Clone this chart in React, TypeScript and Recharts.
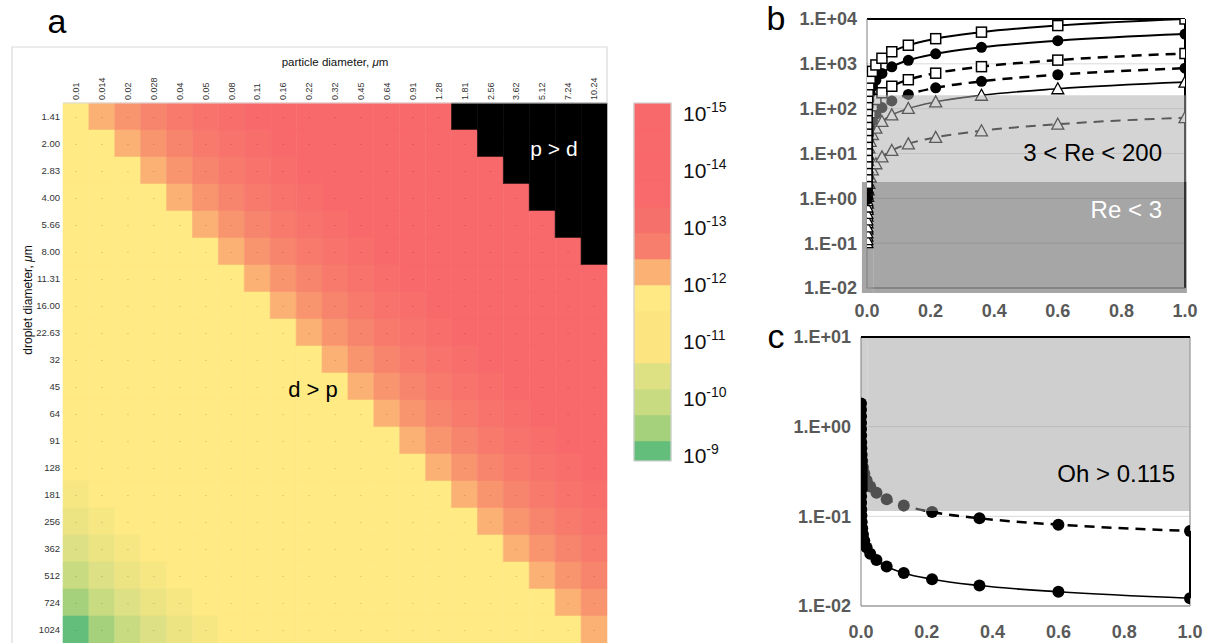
import React from 'react';
import {
  BarChart, Bar, Cell, XAxis, YAxis, LabelList, ComposedChart, Line,
  CartesianGrid, ReferenceArea, ReferenceLine,
} from 'recharts';

const FONT = '"Liberation Sans", Arial, Helvetica, sans-serif';

// ---------- panel a : heat map ----------
const particleLabels = ['0.01', '0.014', '0.02', '0.028', '0.04', '0.05', '0.08', '0.11', '0.16', '0.22', '0.32', '0.45', '0.64', '0.91', '1.28', '1.81', '2.56', '3.62', '5.12', '7.24', '10.24'];
const dropletLabels = ['1.41', '2.00', '2.83', '4.00', '5.66', '8.00', '11.31', '16.00', '22.63', '32', '45', '64', '91', '128', '181', '256', '362', '512', '724', '1024'];

// colour level of each class (0 = 1e-9 green ... 6 = yellow ... 13 = 1e-15 red)
const levelColors = ['#63BE7B', '#A5D17C', '#C8DB81', '#DDE084', '#ECE383', '#F7E783', '#FFEA84', '#FBB174', '#F8956F', '#F7846D', '#F77A6C', '#F7736C', '#F86E6B', '#F8696B'];

// -1 = particle larger than droplet (black)
const cellLevels: number[][] = [
  [6, 7, 8, 9, 10, 11, 12, 13, 13, 13, 13, 13, 13, 13, 13, -1, -1, -1, -1, -1, -1],
  [6, 6, 7, 8, 9, 10, 11, 12, 13, 13, 13, 13, 13, 13, 13, 13, -1, -1, -1, -1, -1],
  [6, 6, 6, 7, 8, 9, 10, 11, 12, 13, 13, 13, 13, 13, 13, 13, 13, -1, -1, -1, -1],
  [6, 6, 6, 6, 7, 8, 9, 10, 11, 12, 13, 13, 13, 13, 13, 13, 13, 13, -1, -1, -1],
  [6, 6, 6, 6, 6, 7, 8, 9, 10, 11, 12, 13, 13, 13, 13, 13, 13, 13, 13, -1, -1],
  [6, 6, 6, 6, 6, 6, 7, 8, 9, 10, 11, 12, 13, 13, 13, 13, 13, 13, 13, 13, -1],
  [6, 6, 6, 6, 6, 6, 6, 7, 8, 9, 10, 11, 12, 13, 13, 13, 13, 13, 13, 13, 13],
  [6, 6, 6, 6, 6, 6, 6, 6, 7, 8, 9, 10, 11, 12, 13, 13, 13, 13, 13, 13, 13],
  [6, 6, 6, 6, 6, 6, 6, 6, 6, 7, 8, 9, 10, 11, 12, 13, 13, 13, 13, 13, 13],
  [6, 6, 6, 6, 6, 6, 6, 6, 6, 6, 7, 8, 9, 10, 11, 12, 13, 13, 13, 13, 13],
  [6, 6, 6, 6, 6, 6, 6, 6, 6, 6, 6, 7, 8, 9, 10, 11, 12, 13, 13, 13, 13],
  [6, 6, 6, 6, 6, 6, 6, 6, 6, 6, 6, 6, 7, 8, 9, 10, 11, 12, 13, 13, 13],
  [6, 6, 6, 6, 6, 6, 6, 6, 6, 6, 6, 6, 6, 7, 8, 9, 10, 11, 12, 13, 13],
  [6, 6, 6, 6, 6, 6, 6, 6, 6, 6, 6, 6, 6, 6, 7, 8, 9, 10, 11, 12, 13],
  [5, 6, 6, 6, 6, 6, 6, 6, 6, 6, 6, 6, 6, 6, 6, 7, 8, 9, 10, 11, 12],
  [4, 5, 6, 6, 6, 6, 6, 6, 6, 6, 6, 6, 6, 6, 6, 6, 7, 8, 9, 10, 11],
  [3, 4, 5, 6, 6, 6, 6, 6, 6, 6, 6, 6, 6, 6, 6, 6, 6, 7, 8, 9, 10],
  [2, 3, 4, 5, 6, 6, 6, 6, 6, 6, 6, 6, 6, 6, 6, 6, 6, 6, 7, 8, 9],
  [1, 2, 3, 4, 5, 6, 6, 6, 6, 6, 6, 6, 6, 6, 6, 6, 6, 6, 6, 7, 8],
  [0, 1, 2, 3, 4, 5, 6, 6, 6, 6, 6, 6, 6, 6, 6, 6, 6, 6, 6, 6, 7],
];
// cells whose "-" marker is hidden under the "d > p" annotation: [row, column]
const hiddenDashCells = [[10, 9], [10, 10]];

// ---------- colour bar (top to bottom) ----------
const colorbarColors = ['#F8696B', '#F8696B', '#F8696B', '#F86A6B', '#F6706B', '#F77D6D', '#FBB174', '#FFE984', '#FCE581', '#FCE581', '#DEE084', '#C9DB81', '#A6D17C', '#63BE7B'];
// height of every colour-bar cell, in decades of the label scale
const colorbarSpans = [0.456, 0.456, 0.456, 0.456, 0.456, 0.456, 0.456, 0.456, 0.456, 0.456, 0.456, 0.456, 0.456, 0.351];
const colorbarExponents = [-15, -14, -13, -12, -11, -10, -9];
const colorbarRange = [8.93, 15.21]; // -log10 at bottom / top of the bar

// ---------- panel b : Re ----------
const reX = [1.0, 0.6, 0.36, 0.216, 0.13, 0.078, 0.047, 0.028, 0.017, 0.01, 0.006, 0.0036, 0.0022, 0.0013, 0.0008, 0.00047, 0.00028, 0.00017, 0.0001, 0.00006, 0.000036, 0.000022, 0.000013, 0.000008, 0.0000047, 0.0000028];
const reSolidSquare = [10000, 7140, 5090, 3640, 2600, 1860, 1330, 944, 680, 479, 342, 244, 176, 124, 90.3, 63.7, 45.2, 32.5, 22.9, 16.4, 11.7, 8.43, 5.96, 4.33, 3.05, 2.16];
const reSolidCircle = [4600, 3280, 2340, 1670, 1200, 856, 612, 434, 313, 220, 157, 112, 81, 57, 41.5, 29.3, 20.8, 15.0, 10.5, 7.5, 5.4, 3.9, 2.74, 1.99, 1.4, 0.99];
const reDashSquare = [1700, 1210, 865, 619, 442, 316, 226, 160, 116, 81, 58, 41.5, 29.9, 21.1, 15.4, 10.8, 7.7, 5.5, 3.9, 2.8, 2.0, 1.43];
const reDashCircle = [800, 571, 407, 291, 208, 149, 106, 75.5, 54.4, 38.3, 27.4, 19.5, 14.1, 9.9, 7.2, 5.1, 3.6, 2.6, 1.83, 1.31, 0.94];
const reSolidTriangle = [390, 278, 199, 142, 101, 72.5, 51.9, 36.8, 26.5, 18.7, 13.3, 9.5, 6.9, 4.8, 3.5, 2.5, 1.76, 1.27, 0.89, 0.64, 0.46, 0.33, 0.23, 0.17, 0.12];
const reDashTriangle = [63, 45, 32.1, 22.9, 16.4, 11.7, 8.4, 5.9, 4.3, 3.0, 2.15, 1.54, 1.11, 0.78, 0.57, 0.4, 0.285, 0.205, 0.144, 0.103];
const reTicks = [0.01, 0.1, 1, 10, 100, 1000, 10000];
const reBands = { low: 0.0077, mid: 2.3, high: 200 };

// ---------- panel c : Oh ----------
const ohX = [1.0, 0.6, 0.36, 0.216, 0.13, 0.078, 0.047, 0.028, 0.017, 0.01, 0.006, 0.0036, 0.0022, 0.0013, 0.0008, 0.00047, 0.00028, 0.00017, 0.0001, 0.00006, 0.000036];
const ohDashed = [0.0686, 0.0808, 0.0952, 0.112, 0.132, 0.155, 0.183, 0.215, 0.253, 0.3, 0.353, 0.415, 0.486, 0.575, 0.672, 0.797, 0.942, 1.1, 1.31, 1.54, 1.81];
const ohSolid = [0.0122, 0.0144, 0.0169, 0.0199, 0.0234, 0.0276, 0.0325, 0.0383, 0.0449, 0.0533, 0.0627, 0.0738, 0.0865, 0.102, 0.12, 0.142, 0.167, 0.196, 0.232, 0.273, 0.322];
const ohTicks = [0.01, 0.1, 1, 10];
const ohLimit = 0.115;

const xTicks01 = [0, 0.2, 0.4, 0.6, 0.8, 1.0];
const nearZeroCut = 0.02; // the stacked near-zero markers are not shaded by the bands

// ---------- helpers ----------
const pts = (xs: number[], ys: number[]) =>
  ys.map((y, i) => ({ x: xs[i], y })).sort((a, b) => a.x - b.x);

const sciFmt = (v: number) => {
  const e = Math.round(Math.log10(v));
  return `1.E${e < 0 ? '-' : '+'}${String(Math.abs(e)).padStart(2, '0')}`;
};

const levelColor = (l: number) => (l < 0 ? '#000000' : levelColors[l]);

const squareDot = (p: any) =>
  p.cx == null ? <g key={`s${p.index}`} /> : (
    <rect key={`s${p.index}`} x={p.cx - 5} y={p.cy - 5} width={10} height={10} fill="#fff" stroke="#000" strokeWidth={1.5} />
  );
const circleDot = (r: number) => (p: any) =>
  p.cx == null ? <g key={`c${p.index}`} /> : (
    <circle key={`c${p.index}`} cx={p.cx} cy={p.cy} r={r} fill="#000" />
  );
const triDot = (p: any) =>
  p.cx == null ? <g key={`t${p.index}`} /> : (
    <path key={`t${p.index}`} d={`M${p.cx},${p.cy - 6} L${p.cx + 6},${p.cy + 5} L${p.cx - 6},${p.cy + 5} Z`} fill="#fff" stroke="#000" strokeWidth={1.3} />
  );

const axisTick = { fontSize: 18, fontWeight: 700, fill: '#595959', fontFamily: FONT };

// ---------- components ----------
function HeatMap() {
  const rows = dropletLabels.map((d) => {
    const o: any = { d };
    particleLabels.forEach((_, j) => { o[`c${j}`] = 1; });
    return o;
  });
  const colTicks = particleLabels.map((_, j) => j + 0.5);
  const dashHidden = (i: number, j: number) =>
    cellLevels[i][j] < 0 || hiddenDashCells.some(([r, c]) => r === i && c === j);
  return (
    <BarChart width={620} height={643} data={rows} layout="vertical" barCategoryGap={0}
      margin={{ top: 73, right: 13, bottom: 0, left: 13 }}>
      <XAxis type="number" orientation="top" domain={[0, 21]} ticks={colTicks} interval={0}
        height={30} tickLine={false} tickSize={0} tickMargin={3} axisLine={{ stroke: '#d9d9d9' }}
        tick={(p: any) => (
          <text key={`ct${p.index}`} x={p.x} y={p.y} dy="0.35em" textAnchor="start" fontSize={9}
            fill="#333" fontFamily={FONT} transform={`rotate(-90 ${p.x} ${p.y})`}>
            {particleLabels[Math.floor(p.payload.value)]}
          </text>
        )} />
      <YAxis type="category" dataKey="d" width={50} interval={0} tickLine={false} axisLine={false}
        tickSize={0} tickMargin={3} tick={{ fontSize: 9.5, fill: '#333', fontFamily: FONT }} />
      {particleLabels.map((_, j) => (
        <Bar key={j} dataKey={`c${j}`} stackId="h" isAnimationActive={false}>
          {cellLevels.map((row, i) => (
            <Cell key={i} fill={levelColor(row[j])} stroke={levelColor(row[j])} strokeWidth={0.6} />
          ))}
          <LabelList dataKey={`c${j}`} content={(p: any) => {
            if (p.index != null && dashHidden(p.index, j)) return null;
            return (
              <text x={p.x + p.width / 2} y={p.y + p.height / 2} dy="0.35em" textAnchor="middle"
                fontSize={8} fill="#000" fillOpacity={0.22} fontFamily={FONT}>-</text>
            );
          }} />
        </Bar>
      ))}
    </BarChart>
  );
}

function ColorBar() {
  // stacked from the bottom: an invisible base up to the bar's lower edge, then the cells
  const bottomUp = colorbarColors.map((_, i) => colorbarColors.length - 1 - i);
  const row: any = { n: 'bar', base: colorbarRange[0] };
  bottomUp.forEach((k, i) => { row[`k${i}`] = colorbarSpans[k]; });
  return (
    <BarChart width={200} height={643} data={[row]} barCategoryGap={0}
      margin={{ top: 103, right: 9, bottom: 182, left: 34 }}>
      <XAxis dataKey="n" hide />
      <YAxis orientation="right" type="number" domain={colorbarRange} allowDataOverflow
        ticks={colorbarExponents.map((e) => -e)} interval={0} width={120} tickLine={false} axisLine={false}
        tickSize={0} tickMargin={12}
        tick={(p: any) => (
          <text key={`cb${p.index}`} x={p.x} y={p.y} dy="0.35em" textAnchor="start" fontFamily={FONT} fill="#111">
            <tspan fontSize={21}>10</tspan>
            <tspan fontSize={14} dy={-9}>{`-${p.payload.value}`}</tspan>
          </text>
        )} />
      <Bar dataKey="base" stackId="cb" fill="none" isAnimationActive={false} />
      {bottomUp.map((k, i) => (
        <Bar key={i} dataKey={`k${i}`} stackId="cb" fill={colorbarColors[k]}
          stroke={colorbarColors[k]} strokeWidth={0.5} isAnimationActive={false} />
      ))}
    </BarChart>
  );
}

const bMargin = { top: 19, right: 25, bottom: 2, left: 27 };
const cMargin = { top: 17, right: 20, bottom: 0, left: 21 };

function PanelB() {
  return (
    <ComposedChart width={450} height={320} margin={bMargin}>
      <CartesianGrid vertical={false} stroke="#D9D9D9" />
      <XAxis type="number" dataKey="x" domain={[0, 1]} ticks={xTicks01} allowDataOverflow
        tickFormatter={(v: number) => v.toFixed(1)} tick={axisTick} tickLine={false} tickSize={0}
        tickMargin={16} height={30} axisLine={{ stroke: '#7F7F7F' }} />
      <YAxis type="number" scale="log" domain={[0.01, 10000]} ticks={reTicks} allowDataOverflow
        tickFormatter={sciFmt} tick={axisTick} tickLine={false} tickSize={0} tickMargin={10}
        width={80} axisLine={{ stroke: '#7F7F7F' }} />
      <ReferenceArea x1={-0.016} x2={nearZeroCut} y1={reBands.low} y2={reBands.mid} fill="#A6A6A6" fillOpacity={1}
        stroke="none" ifOverflow="visible" />
      <ReferenceArea x1={0} x2={nearZeroCut} y1={reBands.mid} y2={reBands.high} fill="#D4D4D4" fillOpacity={1}
        stroke="none" ifOverflow="visible" />
      <ReferenceLine y={10000} stroke="#000" strokeWidth={2} />
      <ReferenceLine x={1} stroke="#000" strokeWidth={2} />
      <Line data={pts(reX, reDashTriangle)} dataKey="y" type="monotone" stroke="#000" strokeWidth={2}
        strokeDasharray="10 7" dot={triDot} isAnimationActive={false} />
      <Line data={pts(reX, reSolidTriangle)} dataKey="y" type="monotone" stroke="#000" strokeWidth={1.6}
        dot={triDot} isAnimationActive={false} />
      <Line data={pts(reX, reDashCircle)} dataKey="y" type="monotone" stroke="#000" strokeWidth={2.5}
        strokeDasharray="10 7" dot={circleDot(5.5)} isAnimationActive={false} />
      <Line data={pts(reX, reDashSquare)} dataKey="y" type="monotone" stroke="#000" strokeWidth={2.5}
        strokeDasharray="10 7" dot={squareDot} isAnimationActive={false} />
      <Line data={pts(reX, reSolidCircle)} dataKey="y" type="monotone" stroke="#000" strokeWidth={2}
        dot={circleDot(5.5)} isAnimationActive={false} />
      <Line data={pts(reX, reSolidSquare)} dataKey="y" type="monotone" stroke="#000" strokeWidth={2}
        dot={squareDot} isAnimationActive={false} />
    </ComposedChart>
  );
}

// translucent bands drawn in a chart laid over panel b (same axes), so they shade the curves
function PanelBBands() {
  return (
    <ComposedChart width={450} height={320} margin={bMargin}>
      <XAxis type="number" dataKey="x" domain={[0, 1]} ticks={xTicks01} allowDataOverflow
        tick={false} tickLine={false} axisLine={false} height={30} />
      <YAxis type="number" scale="log" domain={[0.01, 10000]} ticks={reTicks} allowDataOverflow
        tick={false} tickLine={false} axisLine={false} width={80} />
      <ReferenceArea x1={nearZeroCut} x2={1.006} y1={reBands.low} y2={reBands.mid} fill="#5C5C5C" fillOpacity={0.545}
        stroke="none" ifOverflow="visible" />
      <ReferenceArea x1={nearZeroCut} x2={1.006} y1={reBands.mid} y2={reBands.high} fill="#ADADAD" fillOpacity={0.52}
        stroke="none" ifOverflow="visible" />
    </ComposedChart>
  );
}

function PanelC() {
  return (
    <ComposedChart width={450} height={323} margin={cMargin}>
      <CartesianGrid vertical={false} stroke="#D9D9D9" />
      <XAxis type="number" dataKey="x" domain={[0, 1]} ticks={xTicks01} allowDataOverflow
        tickFormatter={(v: number) => v.toFixed(1)} tick={axisTick} tickLine={false} tickSize={0}
        tickMargin={19} height={37} axisLine={{ stroke: '#7F7F7F' }} />
      <YAxis type="number" scale="log" domain={[0.01, 10]} ticks={ohTicks} allowDataOverflow
        tickFormatter={sciFmt} tick={axisTick} tickLine={false} tickSize={0} tickMargin={10}
        width={80} axisLine={{ stroke: '#7F7F7F' }} />
      <ReferenceArea x1={0} x2={nearZeroCut} y1={ohLimit} y2={10} fill="#D0D0D0" fillOpacity={1} stroke="none" />
      <ReferenceLine x={1} stroke="#A6A6A6" strokeWidth={1.5} />
      <ReferenceLine segment={[{ x: 1, y: ohSolid[0] }, { x: 1, y: ohDashed[0] }]} stroke="#000" strokeWidth={2} />
      <Line data={pts(ohX, ohDashed)} dataKey="y" type="monotone" stroke="#000" strokeWidth={2.5}
        strokeDasharray="10 7" dot={circleDot(6)} isAnimationActive={false} />
      <Line data={pts(ohX, ohSolid)} dataKey="y" type="monotone" stroke="#000" strokeWidth={1.6}
        dot={circleDot(6)} isAnimationActive={false} />
    </ComposedChart>
  );
}

function PanelCBands() {
  return (
    <ComposedChart width={450} height={323} margin={cMargin}>
      <XAxis type="number" dataKey="x" domain={[0, 1]} ticks={xTicks01} allowDataOverflow
        tick={false} tickLine={false} axisLine={false} height={37} />
      <YAxis type="number" scale="log" domain={[0.01, 10]} ticks={ohTicks} allowDataOverflow
        tick={false} tickLine={false} axisLine={false} width={80} />
      <ReferenceArea x1={nearZeroCut} x2={1} y1={ohLimit} y2={10} fill="#A0A0A0" fillOpacity={0.5} stroke="none" />
      <ReferenceLine y={10} stroke="#000" strokeWidth={2} />
    </ComposedChart>
  );
}

const abs = (left: number, top: number): React.CSSProperties => ({ position: 'absolute', left, top });

export default function App() {
  return (
    <div style={{ position: 'absolute', left: 0, top: 0, width: 1210, height: 643, background: '#fff', overflow: 'hidden', fontFamily: FONT }}>
      <div style={abs(0, 0)}><HeatMap /></div>
      <div style={abs(600, 0)}><ColorBar /></div>
      <div style={abs(760, 0)}><PanelB /></div>
      <div style={{ ...abs(760, 0), pointerEvents: 'none' }}><PanelBBands /></div>
      <div style={abs(760, 320)}><PanelC /></div>
      <div style={{ ...abs(760, 320), pointerEvents: 'none' }}><PanelCBands /></div>
      <svg width={1210} height={643} style={{ position: 'absolute', left: 0, top: 0, pointerEvents: 'none' }}>
        <path d="M12,643 L12,47 L607,47 L607,103" fill="none" stroke="#D9D9D9" strokeWidth={1.2} />
        <rect x={634} y={103} width={37} height={358} fill="none" stroke="#D0D0D0" strokeWidth={1.2} />
        <text x={57} y={33} textAnchor="middle" fontSize={34} fontFamily={FONT} fill="#000">a</text>
        <text x={776} y={30} textAnchor="middle" fontSize={34} fontFamily={FONT} fill="#000">b</text>
        <text x={776} y={348} textAnchor="middle" fontSize={34} fontFamily={FONT} fill="#000">c</text>
        <text x={335} y={66} textAnchor="middle" fontSize={11.5} fontFamily={FONT} fill="#111">
          particle diameter, <tspan fontStyle="italic">μ</tspan>m
        </text>
        <text x={32} y={300} textAnchor="middle" fontSize={12} fontFamily={FONT} fill="#111" transform="rotate(-90 32 300)">
          droplet diameter, <tspan fontStyle="italic">μ</tspan>m
        </text>
        <text x={554} y={149} dy="0.35em" textAnchor="middle" fontSize={21} fontFamily={FONT} fill="#fff">p &gt; d</text>
        <text x={313} y={389} dy="0.35em" textAnchor="middle" fontSize={22} fontFamily={FONT} fill="#000">d &gt; p</text>
        <text x={1162} y={153} dy="0.35em" textAnchor="end" fontSize={24} fontFamily={FONT} fill="#000">3 &lt; Re &lt; 200</text>
        <text x={1162} y={210} dy="0.35em" textAnchor="end" fontSize={24} fontFamily={FONT} fill="#fff">Re &lt; 3</text>
        <text x={1175} y={474} dy="0.35em" textAnchor="end" fontSize={24} fontFamily={FONT} fill="#000">Oh &gt; 0.115</text>
      </svg>
    </div>
  );
}
